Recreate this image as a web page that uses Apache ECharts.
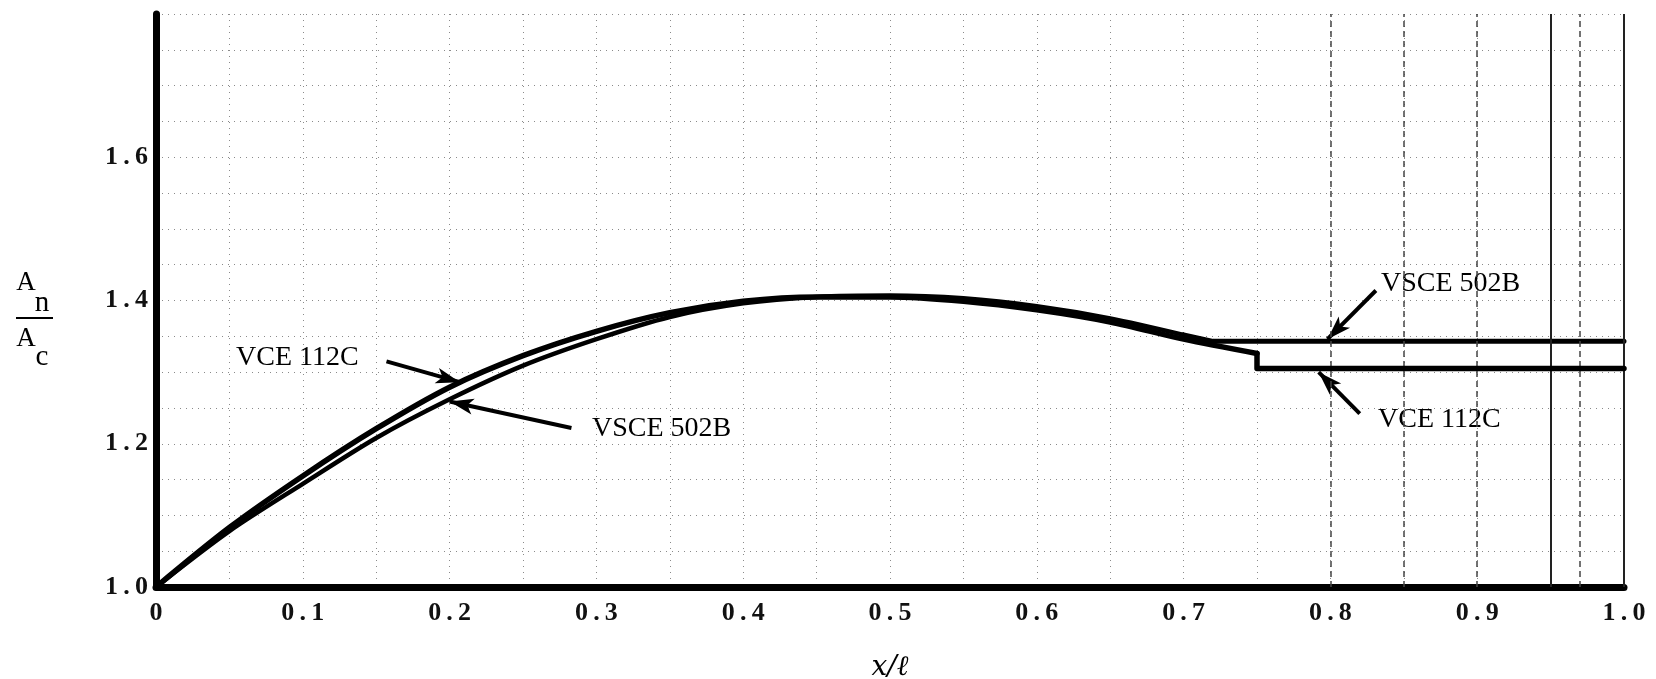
<!DOCTYPE html>
<html>
<head>
<meta charset="utf-8">
<script src="https://cdn.jsdelivr.net/npm/echarts@6/dist/echarts.min.js"></script>
<style>
html, body { margin: 0; padding: 0; background: #fff; }
#chart { width: 1656px; height: 679px; }
</style>
</head>
<body>
<div id="chart"></div>
<script>
// stations along the nozzle (x/l) and area ratio An/Ac
// curved part of each contour
var xVce112c = [0, 0.05, 0.1, 0.15, 0.2, 0.25, 0.3, 0.35, 0.4, 0.45, 0.5, 0.55, 0.6, 0.65, 0.7, 0.75];
var vce112c  = [1.0, 1.083, 1.155, 1.221, 1.279, 1.323, 1.357, 1.383, 1.399, 1.405, 1.405, 1.399, 1.387, 1.370, 1.346, 1.326];
// step and constant-area section
var xVce112cTail = [0.75, 0.75, 1.0];
var vce112cTail  = [1.326, 1.305, 1.305];

var xVsce502b = [0, 0.05, 0.1, 0.15, 0.2, 0.25, 0.3, 0.35, 0.4, 0.45, 0.5, 0.55, 0.6, 0.65, 0.7];
var vsce502b  = [1.0, 1.078, 1.144, 1.208, 1.262, 1.309, 1.346, 1.377, 1.396, 1.405, 1.407, 1.403, 1.392, 1.375, 1.352];
var xVsce502bTail = [0.7, 0.72, 1.0];
var vsce502bTail  = [1.352, 1.343, 1.343];

var xTickLabels = ['0', '0.1', '0.2', '0.3', '0.4', '0.5', '0.6', '0.7', '0.8', '0.9', '1.0'];
var yTickLabels = ['1.0', '1.2', '1.4', '1.6', ''];

// annotation arrows, [from, to] in data units
var arrows = [
    [[0.157, 1.315], [0.207, 1.286]],   // VCE 112C (left)
    [[0.283, 1.222], [0.200, 1.259]],   // VSCE 502B (left)
    [[0.831, 1.414], [0.798, 1.346]],   // VSCE 502B (right)
    [[0.820, 1.242], [0.792, 1.300]]    // VCE 112C (right)
];

// heavier lines of the graph paper on the right side
var paperSolidX = [0.95, 1.0];
var paperDashX = [0.8, 0.85, 0.9, 0.975];

var thin = '\u2009';

function pairs(xs, ys) {
    return xs.map(function (x, i) { return [x, ys[i]]; });
}

function spaced(s) {
    return s.split('.').join(thin + '.' + thin);
}

function contour(name, data, width, smooth, z) {
    return {
        name: name,
        type: 'line',
        data: data,
        showSymbol: false,
        smooth: smooth,
        lineStyle: { color: '#000', width: width, cap: 'round', join: 'round' },
        z: z
    };
}

var chart = echarts.init(document.getElementById('chart'));

var gridDots = { color: '#8a8a8a', width: 1, type: [1, 5] };
var tickFont = { fontFamily: 'Liberation Serif', fontWeight: 'bold', fontSize: 26, color: '#111' };
var noteFont = 'Liberation Serif';

var vceLine = contour('VCE 112C', pairs(xVce112c, vce112c), 5.5, 0.3, 5);
vceLine.markLine = {
    silent: true,
    symbol: ['none', 'arrow'],
    symbolSize: [12, 24],
    label: { show: false },
    lineStyle: { color: '#000', width: 4, type: 'solid' },
    data: arrows.map(function (a) {
        return [{ coord: a[0] }, { coord: a[1] }];
    })
};

var vsceLine = contour('VSCE 502B', pairs(xVsce502b, vsce502b), 4.5, 0.3, 4);
vsceLine.markLine = {
    silent: true,
    symbol: ['none', 'none'],
    label: { show: false },
    data: paperSolidX.map(function (x) {
        return { xAxis: x, lineStyle: { color: '#222', width: 2, type: 'solid' } };
    }).concat(paperDashX.map(function (x) {
        return { xAxis: x, lineStyle: { color: '#444', width: 1.5, type: [6, 4] } };
    }))
};

var option = {
    animation: false,
    grid: { left: 156, right: 32, top: 14, bottom: 92, outerBoundsMode: 'none' },
    xAxis: {
        type: 'value',
        min: 0,
        max: 1,
        interval: 0.1,
        name: 'x/\u2113',
        nameLocation: 'middle',
        nameGap: 67,
        nameTextStyle: { fontFamily: 'DejaVu Serif', fontStyle: 'italic', fontSize: 28, color: '#000' },
        axisLine: { show: true, onZero: false, lineStyle: { color: '#000', width: 7 } },
        axisTick: { show: false },
        axisLabel: Object.assign({
            margin: 13,
            formatter: function (v) { return spaced(xTickLabels[Math.round(v * 10)]); }
        }, tickFont),
        splitLine: { show: true, lineStyle: gridDots },
        minorTick: { show: false, splitNumber: 2 },
        minorSplitLine: { show: true, lineStyle: gridDots }
    },
    yAxis: {
        type: 'value',
        min: 1.0,
        max: 1.8,
        interval: 0.2,
        axisLine: { show: true, onZero: false, lineStyle: { color: '#000', width: 7 } },
        axisTick: { show: false },
        axisLabel: Object.assign({
            margin: 8,
            formatter: function (v) { return spaced(yTickLabels[Math.round((v - 1) * 5)]); }
        }, tickFont),
        splitLine: { show: true, lineStyle: gridDots },
        minorTick: { show: false, splitNumber: 4 },
        minorSplitLine: { show: true, lineStyle: gridDots }
    },
    series: [
        vceLine,
        contour('VCE 112C', pairs(xVce112cTail, vce112cTail), 5.5, false, 5),
        vsceLine,
        contour('VSCE 502B', pairs(xVsce502bTail, vsce502bTail), 5, false, 4)
    ],
    graphic: [
        { type: 'text', x: 236, y: 358, style: { text: 'VCE 112C', font: '28px ' + noteFont, fill: '#000', verticalAlign: 'middle' } },
        { type: 'text', x: 592, y: 429, style: { text: 'VSCE 502B', font: '28px ' + noteFont, fill: '#000', verticalAlign: 'middle' } },
        { type: 'text', x: 1381, y: 284, style: { text: 'VSCE 502B', font: '28px ' + noteFont, fill: '#000', verticalAlign: 'middle' } },
        { type: 'text', x: 1378, y: 420, style: { text: 'VCE 112C', font: '28px ' + noteFont, fill: '#000', verticalAlign: 'middle' } },
        // y axis title An / Ac
        { type: 'text', x: 26, y: 283, style: { text: 'A', font: '27px ' + noteFont, fill: '#000', align: 'center', verticalAlign: 'middle' } },
        { type: 'text', x: 42, y: 303, style: { text: 'n', font: '29px ' + noteFont, fill: '#000', align: 'center', verticalAlign: 'middle' } },
        { type: 'rect', shape: { x: 16, y: 317, width: 37, height: 2 }, style: { fill: '#000' } },
        { type: 'text', x: 26, y: 339, style: { text: 'A', font: '27px ' + noteFont, fill: '#000', align: 'center', verticalAlign: 'middle' } },
        { type: 'text', x: 42, y: 357, style: { text: 'c', font: '29px ' + noteFont, fill: '#000', align: 'center', verticalAlign: 'middle' } }
    ]
};

chart.setOption(option);
</script>
</body>
</html>
